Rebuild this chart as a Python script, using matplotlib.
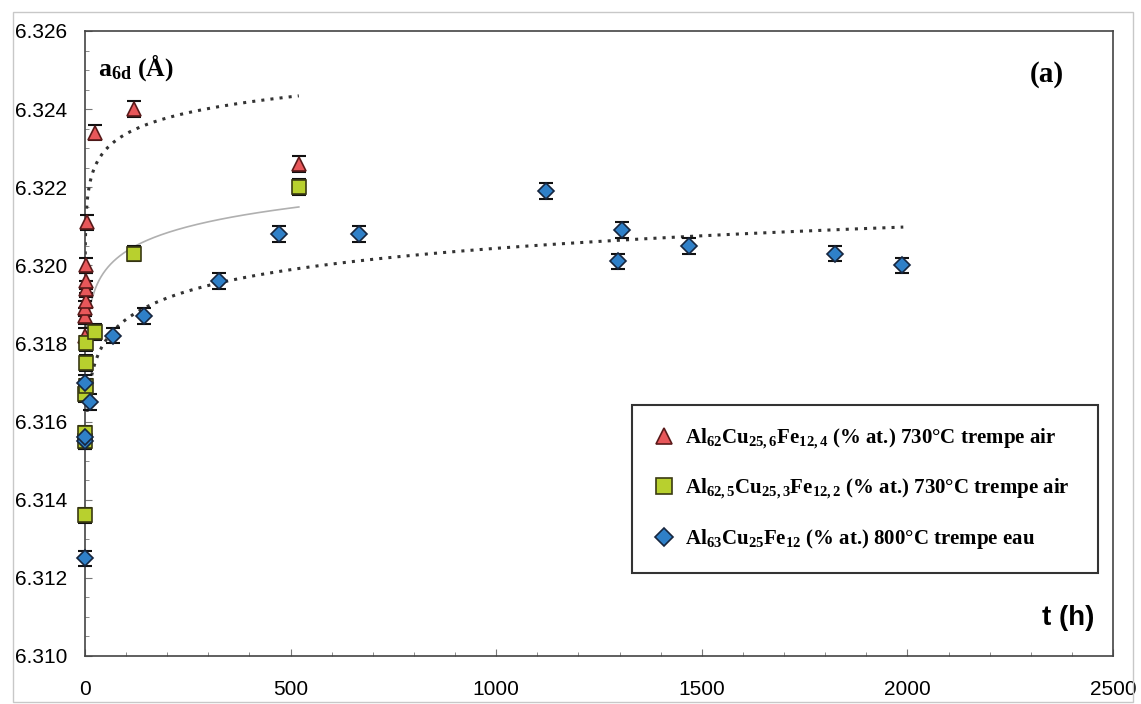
# -*- coding: utf-8 -*-
import numpy as np
import matplotlib
matplotlib.use("Agg")
import matplotlib.pyplot as plt
from matplotlib.patches import Rectangle
from matplotlib.ticker import MultipleLocator, FormatStrFormatter

plt.rcParams['mathtext.fontset'] = 'custom'
plt.rcParams['mathtext.rm'] = 'Liberation Serif:bold'
plt.rcParams['mathtext.it'] = 'Liberation Serif:bold'
plt.rcParams['mathtext.bf'] = 'Liberation Serif:bold'

# Al62Cu25,6Fe12,4 - 730°C trempe air
t_red = [0, 0.5, 1, 1.5, 2, 2.5, 3, 4, 24, 120, 520]
a_red = [6.3182, 6.3187, 6.3189, 6.3191, 6.3194, 6.3196, 6.3200, 6.3211, 6.3234, 6.3240, 6.3226]
# Al62,5Cu25,3Fe12,2 - 730°C trempe air
t_green = [0, 0, 0.5, 1, 1.5, 2, 3, 24, 120, 520]
a_green = [6.3136, 6.3155, 6.3157, 6.3167, 6.3169, 6.3175, 6.3180, 6.3183, 6.3203, 6.3220]
# Al63Cu25Fe12 - 800°C trempe eau
t_blue = [0, 0, 0.5, 1, 12, 68, 144, 326, 472, 667, 1120, 1295, 1305, 1468, 1823, 1986]
a_blue = [6.3125, 6.3155, 6.3156, 6.3170, 6.3165, 6.3182, 6.3187, 6.3196, 6.3208, 6.3208,
          6.3219, 6.3201, 6.3209, 6.3205, 6.3203, 6.3200]
err = 0.0002

# log trend lines  a = c0 + c1*ln(t)
trend_red = (6.32065, 0.00059, 0.01, 520)
trend_green = (6.31718, 0.00069, 8, 520)
trend_blue = (6.31498, 0.00079, 5, 1990)

labels = [r'Al$_{62}$Cu$_{25,6}$Fe$_{12,4}$ (% at.) 730°C trempe air',
          r'Al$_{62,5}$Cu$_{25,3}$Fe$_{12,2}$ (% at.) 730°C trempe air',
          r'Al$_{63}$Cu$_{25}$Fe$_{12}$ (% at.) 800°C trempe eau']

fig = plt.figure(figsize=(11.41, 7.04), dpi=100)
ax = fig.add_axes([85/1141, 1-656/704, 1028/1141, 625/704])

def trend(c, style, color, lw):
    t = np.geomspace(c[2], c[3], 300)
    ax.plot(t, c[0] + c[1]*np.log(t), linestyle=style, color=color, lw=lw, zorder=2)

trend(trend_red, (0, (1, 2)), '#333333', 2.2)
trend(trend_green, '-', '#b0b0b0', 1.2)
trend(trend_blue, (0, (1, 2)), '#333333', 2.2)

series = [(t_red, a_red, '^', '#e8575a', '#5a1a1a', 10),
          (t_green, a_green, 's', '#b8d02e', '#3a3a12', 9.5),
          (t_blue, a_blue, 'D', '#2f80c8', '#16263f', 8)]
handles = []
for (t, a, m, fc, ec, ms), lab in zip(series, labels):
    ax.errorbar(t, a, yerr=err, fmt='none', ecolor='#111111', elinewidth=1.2,
                capsize=5, capthick=1.5, zorder=3, clip_on=False)
    h, = ax.plot(t, a, linestyle='none', marker=m, markersize=ms, markerfacecolor=fc,
                 markeredgecolor=ec, markeredgewidth=1.2, zorder=4, clip_on=False, label=lab)
    handles.append(h)

ax.set_xlim(0, 2500)
ax.set_ylim(6.310, 6.326)
ax.xaxis.set_major_locator(MultipleLocator(500))
ax.xaxis.set_minor_locator(MultipleLocator(100))
ax.yaxis.set_major_locator(MultipleLocator(0.002))
ax.yaxis.set_minor_locator(MultipleLocator(0.0005))
ax.yaxis.set_major_formatter(FormatStrFormatter('%.3f'))
ax.tick_params(axis='both', which='both', direction='in', color='#777777')
ax.tick_params(axis='both', which='major', length=5, labelsize=15)
ax.tick_params(axis='both', which='minor', length=3)
ax.tick_params(axis='y', which='major', pad=13)
ax.tick_params(axis='x', which='major', pad=17)
for lab in ax.get_xticklabels() + ax.get_yticklabels():
    lab.set_family('Liberation Sans')
for s in ax.spines.values():
    s.set_color('#444444')
    s.set_linewidth(1.2)

leg = ax.legend(handles=handles, loc='upper left', bbox_to_anchor=(0.532, 0.138, 0.453, 0.264),
                mode='expand', borderaxespad=0, fancybox=False, frameon=True,
                prop={'family': 'Liberation Serif', 'weight': 'bold', 'size': 15},
                labelspacing=1.25, borderpad=1.05, handletextpad=0.5, handlelength=1.0,
                markerscale=1.2)
leg.get_frame().set_edgecolor('black')
leg.get_frame().set_linewidth(1.5)

fig.text(98/1141, 1-68/704, r'a$_{6d}$ (Å)', fontfamily='Liberation Serif', fontweight='bold',
         fontsize=18.5, ha='left', va='center')
fig.text(1047/1141, 1-74/704, '(a)', fontfamily='Liberation Serif', fontweight='bold',
         fontsize=21, ha='center', va='center')
fig.text(1068/1141, 1-618/704, 't (h)', fontfamily='Liberation Sans', fontweight='bold',
         fontsize=20, ha='center', va='center')

fig.patches.append(Rectangle((13/1141, 2/704), 1120/1141, 690/704, transform=fig.transFigure,
                             fill=False, edgecolor='#c8c8c8', lw=1))

fig.savefig('out.png', dpi=100)
